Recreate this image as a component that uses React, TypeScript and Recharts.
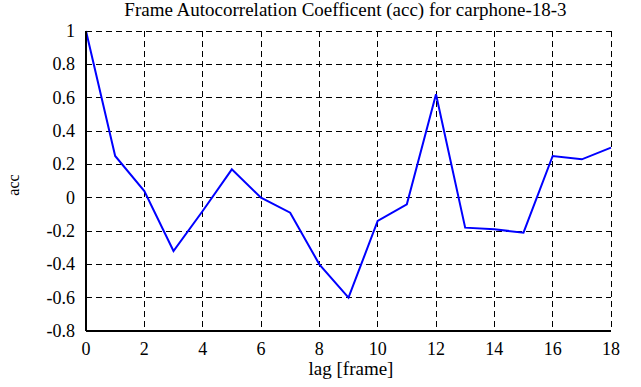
import { LineChart, Line, XAxis, YAxis, CartesianGrid } from 'recharts';

const lags = [0, 1, 2, 3, 4, 5, 6, 7, 8, 9, 10, 11, 12, 13, 14, 15, 16, 17, 18];
const accValues = [1.0, 0.25, 0.04, -0.32, -0.08, 0.17, 0.0, -0.09, -0.4, -0.6, -0.14, -0.04, 0.62, -0.18, -0.19, -0.21, 0.25, 0.23, 0.3];
const xTicks = [0, 2, 4, 6, 8, 10, 12, 14, 16, 18];
const yTicks = [-0.8, -0.6, -0.4, -0.2, 0, 0.2, 0.4, 0.6, 0.8, 1];

const data = lags.map((lag, i) => ({ lag, acc: accValues[i] }));

const font = '"Liberation Serif", "DejaVu Serif", serif';
const blank = () => <g />;

const XTick = (props: any) => (
  <text x={props.x} y={props.y + 13} textAnchor="middle" fontSize={18} fill="#000" fontFamily="Liberation Serif">
    {props.payload.value}
  </text>
);
const YTick = (props: any) => (
  <text x={props.x} y={props.y + 6} textAnchor="end" fontSize={18} fill="#000" fontFamily="Liberation Serif">
    {props.payload.value}
  </text>
);

export default function App() {
  return (
    <div style={{ position: 'absolute', left: 0, top: 0, width: 641, height: 387, background: '#fff', fontFamily: font }}>
      <div style={{ position: 'absolute', left: 0, width: 691, top: 0, textAlign: 'center', fontSize: 19, lineHeight: '20px' }}>
        Frame Autocorrelation Coefficent (acc) for carphone-18-3
      </div>
      <LineChart width={641} height={387} data={data} margin={{ top: 31, right: 30, bottom: 26, left: 0 }}>
        <CartesianGrid stroke="#000" strokeDasharray="6 4" strokeWidth={1} shapeRendering="crispEdges" />
        <XAxis
          dataKey="lag"
          type="number"
          domain={[0, 18]}
          ticks={xTicks}
          height={30}
          tickLine={false}
          tickSize={0}
          tickMargin={11}
          axisLine={{ stroke: '#000', strokeWidth: 2 }}
          tick={<XTick />}
        />
        <XAxis xAxisId="b" type="number" domain={[0, 18]} ticks={xTicks} orientation="bottom" mirror height={0} tickSize={5} tick={blank} tickLine={{ stroke: '#000' }} axisLine={false} />
        <XAxis xAxisId="t" type="number" domain={[0, 18]} ticks={xTicks} orientation="top" mirror height={0} tickSize={5} tick={blank} tickLine={{ stroke: '#000' }} axisLine={{ stroke: '#000', strokeWidth: 2 }} />
        <YAxis
          type="number"
          domain={[-0.8, 1]}
          ticks={yTicks}
          width={86}
          tickLine={false}
          tickSize={0}
          tickMargin={11}
          axisLine={{ stroke: '#000', strokeWidth: 2 }}
          tick={<YTick />}
        />
        <YAxis yAxisId="l" type="number" domain={[-0.8, 1]} ticks={yTicks} orientation="left" mirror width={0} tickSize={5} tick={blank} tickLine={{ stroke: '#000' }} axisLine={false} />
        <YAxis yAxisId="r" type="number" domain={[-0.8, 1]} ticks={yTicks} orientation="right" mirror width={0} tickSize={5} tick={blank} tickLine={{ stroke: '#000' }} axisLine={{ stroke: '#000', strokeWidth: 2 }} />
        <Line dataKey="acc" stroke="#0000ff" strokeWidth={2} dot={false} isAnimationActive={false} />
      </LineChart>
      <div style={{ position: 'absolute', left: 251, width: 200, top: 358, textAlign: 'center', fontSize: 19, lineHeight: '22px' }}>
        lag [frame]
      </div>
      <div style={{ position: 'absolute', left: 14, top: 185, width: 0, height: 0 }}>
        <div style={{ position: 'absolute', transform: 'translate(-50%, -50%) rotate(-90deg)', fontSize: 16, lineHeight: '18px', whiteSpace: 'nowrap' }}>
          acc
        </div>
      </div>
    </div>
  );
}
